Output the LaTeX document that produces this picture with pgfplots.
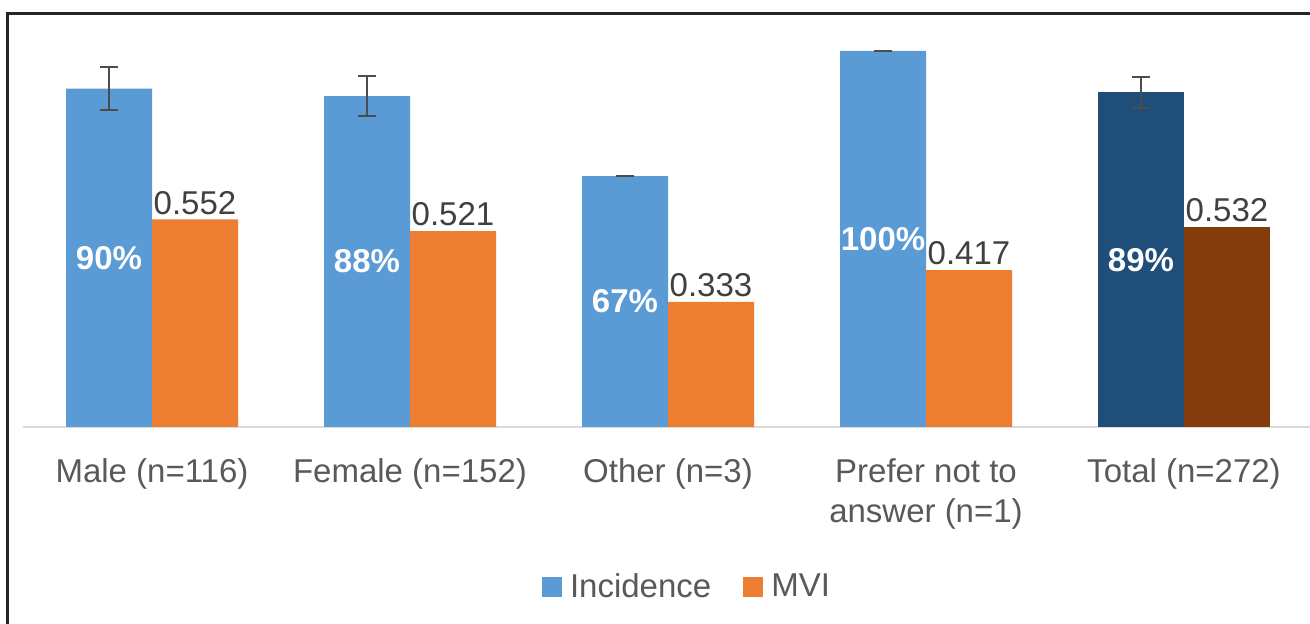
\documentclass[border=0pt]{standalone}
\usepackage{pgfplots}
\usepackage{pgfplotstable}
\pgfplotsset{compat=1.18}
\usepackage{fontspec}
\setmainfont{Liberation Sans}

\definecolor{incblue}{HTML}{5B9BD5}
\definecolor{mviorange}{HTML}{ED7D31}
\definecolor{totblue}{HTML}{1F4E79}
\definecolor{totbrown}{HTML}{843C0C}
\definecolor{txtgrey}{HTML}{595959}
\definecolor{lblgrey}{HTML}{404040}
\definecolor{basegrey}{HTML}{D9D9D9}

\newcommand{\lblfont}{\fontsize{16.5}{20}\selectfont}

% groups: x position, incidence, its error, MVI
\pgfplotstableread{
x inc err mvi
0 0.900 0.057 0.552
1 0.880 0.053 0.521
2 0.667 0.000 0.333
3 1.000 0.000 0.417
}\groups
\pgfplotstableread{
x inc err mvi
4 0.890 0.042 0.532
}\total

\begin{document}
\begin{tikzpicture}
\useasboundingbox (0,0) rectangle (655pt,312pt);
\draw[line width=1.5pt, black!85] (3.5pt,0) -- (3.5pt,305pt) -- (655pt,305pt);
\begin{axis}[
    at={(11.5pt,98.5pt)}, anchor=south west,
    scale only axis, width=645pt, height=188pt,
    xmin=-0.5, xmax=4.5, ymin=0, ymax=1,
    axis x line=bottom, axis y line=none,
    x axis line style={basegrey, line width=1pt, -},
    xtick={0,1,2,3,4},
    xticklabels={Male (n=116), Female (n=152), Other (n=3), {Prefer not to\\answer (n=1)}, Total (n=272)},
    major x tick style={draw=none},
    xticklabel style={font=\lblfont, text=txtgrey, align=center, yshift=-8pt},
    ytick=\empty,
    clip=false,
    /pgf/number format/assume math mode=true,
    ybar, bar width=43pt,
    legend style={at={(axis description cs:0.5155,-0.425)}, anchor=center,
        draw=none, legend columns=2, font=\lblfont, text=txtgrey,
        /tikz/every odd column/.append style={column sep=2pt},
        /tikz/every even column/.append style={column sep=14pt}},
    legend image code/.code={\fill[#1] (0pt,-5pt) rectangle (10pt,5pt);},
    incstyle/.style={
        bar shift=-21.5pt, draw=none,
        point meta={\thisrow{inc}*100},
        visualization depends on=y \as \rawy,
        nodes near coords={\pgfmathprintnumber[fixed,precision=0]{\pgfplotspointmeta}\%},
        every node near coord/.append style={anchor=center,
            shift={(axis direction cs:0,-\rawy/2)}, text=white, font=\lblfont\bfseries},
        error bars/y dir=both, error bars/y explicit,
        error bars/error bar style={line width=1pt, black!70},
        error bars/error mark options={rotate=90, mark size=4.5pt, line width=1pt, black!70}},
    mvistyle/.style={
        bar shift=21.5pt, draw=none,
        point meta=y,
        nodes near coords={\pgfmathprintnumber[fixed,fixed zerofill,precision=3]{\pgfplotspointmeta}},
        every node near coord/.append style={anchor=south, yshift=-1pt,
            text=lblgrey, font=\lblfont}},
]

\addplot[incstyle, fill=incblue] table[x=x, y=inc, y error=err] {\groups};
\addlegendentry{Incidence}
\addplot[mvistyle, fill=mviorange] table[x=x, y=mvi] {\groups};
\addlegendentry{MVI}

% Total drawn in darker shades
\addplot[incstyle, fill=totblue, forget plot] table[x=x, y=inc, y error=err] {\total};
\addplot[mvistyle, fill=totbrown, forget plot] table[x=x, y=mvi] {\total};

\end{axis}
\end{tikzpicture}
\end{document}
